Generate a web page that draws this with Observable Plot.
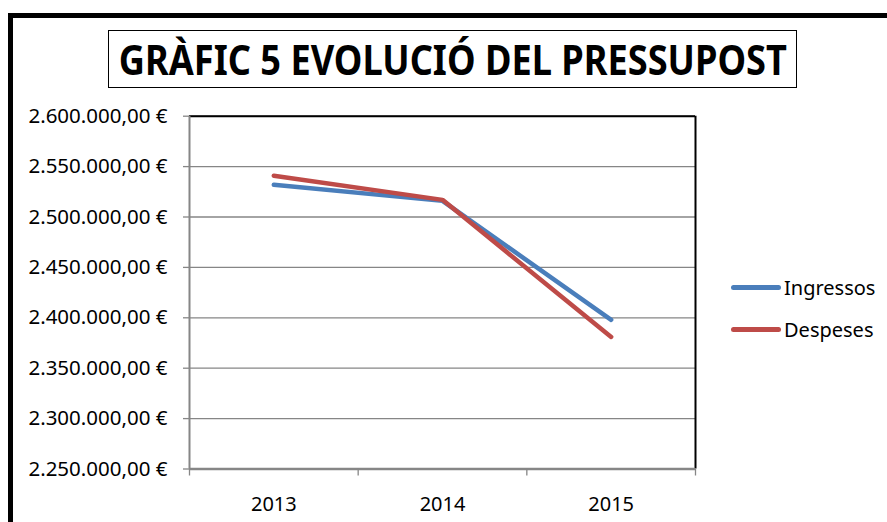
<!DOCTYPE html>
<html>
<head>
<meta charset="utf-8">
<script src="https://cdn.jsdelivr.net/npm/d3@7"></script>
<script src="https://cdn.jsdelivr.net/npm/@observablehq/plot@0.6"></script>
<style>
  html, body { margin: 0; padding: 0; background: #fff; }
  #wrap { position: relative; width: 887px; height: 522px; overflow: hidden; background: #fff; font-family: "Noto Sans", sans-serif; }
  #frame { position: absolute; left: 8px; top: 13px; width: 900px; height: 600px; border-left: 5px solid #000; border-top: 5px solid #000; box-sizing: border-box; }
  #title { position: absolute; left: 108px; top: 30px; width: 689px; height: 58px; border: 1.5px solid #000; box-sizing: border-box; display: flex; align-items: center; justify-content: center; overflow: hidden; }
  #title span { font-family: "Noto Sans", sans-serif; font-weight: 700; font-size: 42px; line-height: 1; white-space: nowrap; display: inline-block; transform-origin: center center; color: #000; }
  #plot { position: absolute; left: 0; top: 0; }
  #legend { position: absolute; left: 731px; top: 266px; font-family: "Noto Sans", sans-serif; font-size: 20px; color: #000; }
  .item { display: flex; align-items: center; height: 42px; }
  .sw { width: 50px; height: 5px; border-radius: 3px; margin-right: 3px; }
</style>
</head>
<body>
<div id="wrap">
  <div id="plot"></div>
  <div id="frame"></div>
  <div id="title"><span id="tt">GRÀFIC 5 EVOLUCIÓ DEL PRESSUPOST</span></div>
  <div id="legend"></div>
</div>
<script>
const years = [2013, 2014, 2015];
const ingressos = [2532000, 2516000, 2398000];
const despeses = [2541000, 2517000, 2381000];
const seriesNames = ["Ingressos", "Despeses"];
const seriesColors = ["#4a7ebb", "#be4b48"];
const yTicks = [2250000, 2300000, 2350000, 2400000, 2450000, 2500000, 2550000, 2600000];

const rows = [];
years.forEach((yr, i) => {
  rows.push({year: yr, value: ingressos[i], series: seriesNames[0]});
  rows.push({year: yr, value: despeses[i], series: seriesNames[1]});
});

const locale = d3.formatLocale({decimal: ",", thousands: ".", grouping: [3], currency: ["", " €"]});
const fmt = locale.format("$,.2f");

const xMin = years[0] - 0.5, xMax = years[years.length - 1] + 0.5;
const bounds = years.map(y => y - 0.5).concat([xMax]);
const yMin = yTicks[0], yMax = yTicks[yTicks.length - 1];

const chart = Plot.plot({
  width: 887,
  height: 522,
  marginLeft: 189,
  marginRight: 192,
  marginTop: 115.7,
  marginBottom: 53.5,
  style: {fontFamily: "Noto Sans, sans-serif", fontSize: "20px", color: "#000", background: "transparent"},
  x: {type: "linear", domain: [xMin, xMax]},
  y: {type: "linear", domain: [yMin, yMax]},
  color: {domain: seriesNames, range: seriesColors},
  marks: [
    Plot.gridY(yTicks, {stroke: "#868686", strokeOpacity: 1, strokeWidth: 1.3}),
    Plot.ruleY([yMax], {stroke: "#000", strokeWidth: 2}),
    Plot.ruleX([xMax], {stroke: "#000", strokeWidth: 2}),
    Plot.ruleX([xMin], {stroke: "#868686", strokeWidth: 2}),
    Plot.ruleY([yMin], {stroke: "#868686", strokeWidth: 2.5}),
    Plot.axisY(yTicks, {tickSize: 6, tickPadding: 16, tickFormat: fmt, stroke: "#868686", strokeWidth: 1.3, fontSize: 20.5, fill: "#000", label: null}),
    Plot.axisX(bounds, {tickSize: 7, tickFormat: () => "", stroke: "#868686", strokeWidth: 1.3, label: null}),
    Plot.axisX(years, {tickSize: 0, tickPadding: 28, tickFormat: d => String(d), fontSize: 20, fill: "#000", label: null}),
    Plot.line(rows, {x: "year", y: "value", z: "series", stroke: "series", strokeWidth: 4.5, strokeLinecap: "round", strokeLinejoin: "round"})
  ]
});
document.getElementById("plot").appendChild(chart);

// legend
const leg = document.getElementById("legend");
seriesNames.forEach((n, i) => {
  const it = document.createElement("div");
  it.className = "item";
  const sw = document.createElement("div");
  sw.className = "sw";
  sw.style.background = seriesColors[i];
  const t = document.createElement("span");
  t.textContent = n;
  it.appendChild(sw); it.appendChild(t);
  leg.appendChild(it);
});

// fit title width
const tt = document.getElementById("tt");
const w = tt.getBoundingClientRect().width;
const target = 668;
tt.style.transform = `scaleX(${target / w})`;
</script>
</body>
</html>
